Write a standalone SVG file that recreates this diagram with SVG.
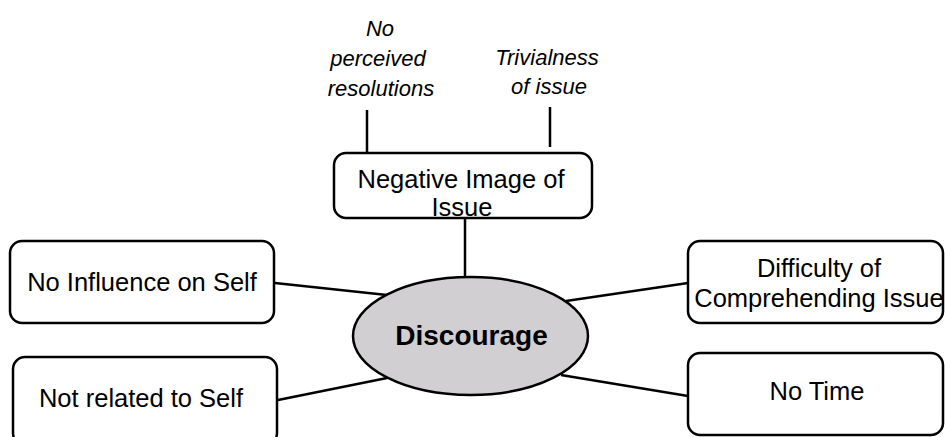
<svg xmlns="http://www.w3.org/2000/svg" width="945" height="437" viewBox="0 0 945 437">
  <style>
    .box { fill: #ffffff; stroke: #000000; stroke-width: 2.5; }
    .hub { fill: #d1cfd1; stroke: #000000; stroke-width: 2.5; }
    .link { stroke: #000000; stroke-width: 2.5; fill: none; }
    .lbl { font-family: "Liberation Sans", Arial, Helvetica, sans-serif; font-size: 25.5px; fill: #000000; text-anchor: middle; }
    .note { font-family: "Liberation Sans", Arial, Helvetica, sans-serif; font-size: 22px; font-style: italic; fill: #000000; text-anchor: middle; }
    .hubtxt { font-family: "Liberation Sans", Arial, Helvetica, sans-serif; font-size: 28px; font-weight: bold; fill: #000000; text-anchor: middle; }
  </style>
  <rect width="945" height="437" fill="#ffffff"/>

  <g id="connectors">
    <line class="link" x1="367" y1="110" x2="367" y2="153"/>
    <line class="link" x1="550" y1="107" x2="550" y2="147"/>
    <line class="link" x1="465" y1="218" x2="465" y2="278"/>
    <line class="link" x1="275" y1="283" x2="387" y2="295"/>
    <line class="link" x1="278" y1="400" x2="387" y2="378"/>
    <line class="link" x1="566" y1="301" x2="688" y2="283"/>
    <line class="link" x1="561" y1="375" x2="688" y2="396"/>
  </g>

  <g id="note-resolutions">
    <text class="note" x="380" y="36">No</text>
    <text class="note" x="378" y="66">perceived</text>
    <text class="note" x="381" y="96">resolutions</text>
  </g>

  <g id="note-trivialness">
    <text class="note" x="547" y="65">Trivialness</text>
    <text class="note" x="549" y="94">of issue</text>
  </g>

  <g id="node-negative-image">
    <rect class="box" x="334" y="153" width="258" height="65" rx="12"/>
    <text class="lbl" x="461" y="188">Negative Image of</text>
    <text class="lbl" x="462" y="216">Issue</text>
  </g>

  <g id="node-no-influence">
    <rect class="box" x="10" y="241" width="264" height="82" rx="12"/>
    <text class="lbl" x="142" y="291">No Influence on Self</text>
  </g>

  <g id="node-not-related">
    <rect class="box" x="13" y="357" width="264" height="88" rx="12"/>
    <text class="lbl" x="141" y="407">Not related to Self</text>
  </g>

  <g id="node-difficulty">
    <rect class="box" x="688" y="241" width="255" height="82" rx="12"/>
    <text class="lbl" x="819" y="277">Difficulty of</text>
    <text class="lbl" x="819" y="307">Comprehending Issue</text>
  </g>

  <g id="node-no-time">
    <rect class="box" x="688" y="353" width="255" height="82" rx="12"/>
    <text class="lbl" x="817" y="400">No Time</text>
  </g>

  <g id="node-discourage">
    <ellipse class="hub" cx="470.5" cy="336" rx="117.5" ry="59"/>
    <text class="hubtxt" x="471.5" y="345">Discourage</text>
  </g>
</svg>
